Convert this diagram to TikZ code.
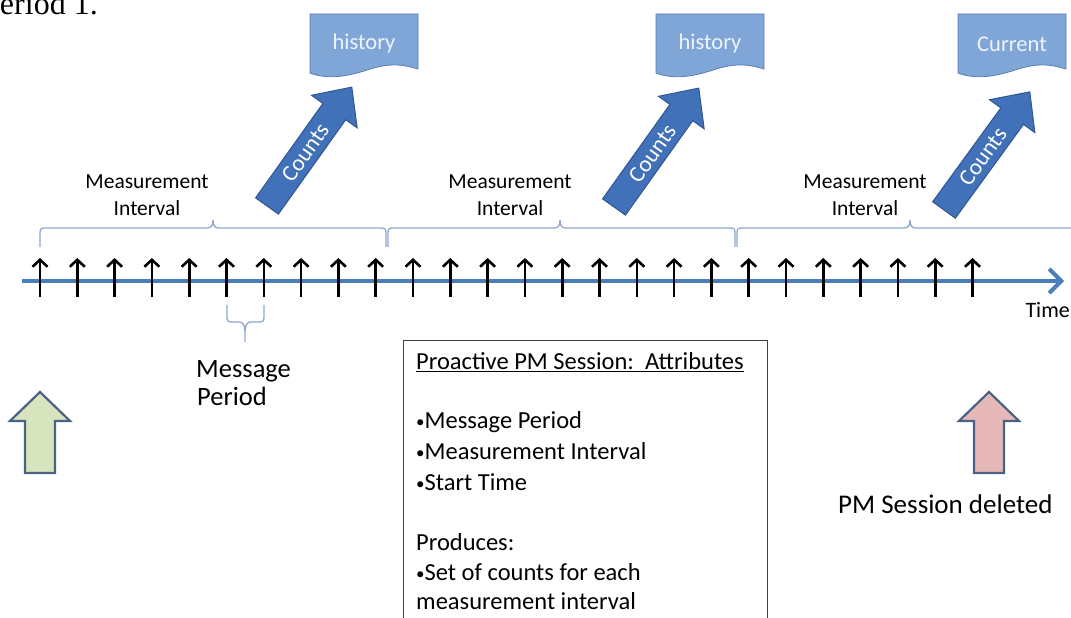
\documentclass[tikz,border=0pt]{standalone}
\usepackage{fontspec}
\setmainfont{Carlito}
\newfontfamily\timesfont{Liberation Serif}
\usetikzlibrary{arrows.meta}

\definecolor{axisblue}{HTML}{4A7EBB}
\definecolor{bracecol}{HTML}{8FA8D2}
\definecolor{countsfill}{HTML}{4171B9}
\definecolor{countsline}{HTML}{2F5592}
\definecolor{docfill}{HTML}{80A6D8}
\definecolor{docline}{HTML}{5A7DB3}
\definecolor{doctext}{HTML}{EEF3FA}
\definecolor{startfill}{HTML}{D7E4BD}
\definecolor{endfill}{HTML}{E6B9B8}
\definecolor{blockline}{HTML}{4A6285}
\definecolor{boxline}{HTML}{404040}

% curly brace over an interval: left end, tip, right end
\newcommand\intervalbrace[3]{%
  \draw[bracepath] (#1,371) -- (#1,385) .. controls (#1,389) and (#1+1,390) .. (#1+5,390)
    -- (#2-6,390) .. controls (#2-2,390) and (#2,392) .. (#2,398)
    .. controls (#2,392) and (#2+2,390) .. (#2+6,390)
    -- (#3-5,390) .. controls (#3-1,390) and (#3,389) .. (#3,385) -- (#3,371);}
% small raised list bullet
\newcommand\lbul{\raisebox{1.5pt}{\fontsize{17}{20}\selectfont•}}

\begin{document}
\begin{tikzpicture}[x=1pt,y=1pt,
  axis/.style={axisblue, line width=4pt, -{Straight Barb[length=12pt,width=24pt]}},
  tick/.style={black, line width=2.6pt, -{Straight Barb[length=7pt,width=15pt]}},
  bracepath/.style={bracecol, line width=1.3pt},
  mlbl/.style={font=\fontsize{21.5}{26}\selectfont, inner sep=0pt},
  mplbl/.style={font=\fontsize{26.5}{30}\selectfont, inner sep=0pt},
  boxtxt/.style={font=\fontsize{24.5}{30}\selectfont, inner sep=0pt, anchor=base west},
  countstxt/.style={font=\fontsize{23}{26}\selectfont, text=white, inner sep=0pt},
  doctxt/.style={font=\fontsize{22.5}{26}\selectfont, text=doctext, inner sep=0pt},
  blockarrow/.style={blockline, line width=2.2pt, line join=miter},
  countsarrow/.pic={
    \draw[countsline, line width=1pt, fill=countsfill, line join=miter]
      (0,-14) -- (116,-14) -- (116,-28) -- (146,0) -- (116,28) -- (116,14) -- (0,14) -- cycle;
    \node[countstxt, transform shape] (-txt) at (66,0) {Counts};
  },
  docshape/.pic={
    \draw[docline, line width=0.8pt, fill=docfill]
      (0,0) -- (108,0) -- (108,-55) .. controls (86,-48) and (72,-51) .. (54,-57)
      .. controls (38,-62) and (18,-66) .. (0,-59) -- cycle;
    \node[doctxt] (-txt) at (54,-30) {\tikzpictext};
  }
]
\useasboundingbox (0,0) rectangle (1071,618);
\clip (0,0) rectangle (1071,618);
\fill[white] (0,0) rectangle (1071,618);

% heading fragment
\node[font=\timesfont\fontsize{32}{36}\selectfont, anchor=base west, inner sep=0pt] (period) at (-18,603) {Period 1.};

% time axis
\coordinate (axstart) at (22,337);
\coordinate (axend) at (1064,337);
\draw[axis] (axstart) -- (axend);
\node[mlbl, font=\fontsize{22}{26}\selectfont, anchor=base east] (timelbl) at (1070,300) {Time};

% message ticks
\foreach \i in {0,...,25} {
  \coordinate (tb\i) at ({40+37.3*\i},321);
  \coordinate (tt\i) at ({40+37.3*\i},360);
  \draw[tick] (tb\i) -- (tt\i);
}

% measurement intervals
\intervalbrace{40}{213}{386}
\intervalbrace{388}{560}{735}
\intervalbrace{737}{910}{1090}
\node[mlbl, anchor=base] (mi1a) at (147,429) {Measurement};
\node[mlbl, anchor=base] (mi1b) at (147,402) {Interval};
\node[mlbl, anchor=base] (mi2a) at (510,429) {Measurement};
\node[mlbl, anchor=base] (mi2b) at (510,402) {Interval};
\node[mlbl, anchor=base] (mi3a) at (865,429) {Measurement};
\node[mlbl, anchor=base] (mi3b) at (865,402) {Interval};

% message period brace
\draw[bracepath] (227,313) -- (227,301) .. controls (227,297) and (228,296) .. (232,296)
  -- (239,296) .. controls (243,296) and (245,293) .. (245,286) -- (245,276)
  -- (245,286) .. controls (245,293) and (247,296) .. (251,296)
  -- (259,296) .. controls (263,296) and (264,297) .. (264,301) -- (264,313);
\node[mplbl, anchor=base west] (mp1) at (196,240) {Message};
\node[mplbl, anchor=base west] (mp2) at (197,212) {Period};

% result documents
\pic[pic text=history] (doc1) at (310,604) {docshape};
\pic[pic text=history] (doc2) at (656,604) {docshape};
\pic[pic text=Current] (doc3) at (958,604) {docshape};

% counts arrows
\pic[rotate=54.5] (ca1) at (267,412) {countsarrow};
\pic[rotate=54.5] (ca2) at (614,411) {countsarrow};
\pic[rotate=54] (ca3) at (944,408) {countsarrow};

% session start / end markers
\draw[blockarrow, fill=startfill] (25,145) -- (25,197) -- (10,197) -- (40,226) -- (70,197) -- (55,197) -- (55,145) -- cycle;
\draw[blockarrow, fill=endfill] (974,145) -- (974,197) -- (959,197) -- (989,226) -- (1019,197) -- (1004,197) -- (1004,145) -- cycle;
\node[mplbl, font=\fontsize{27}{30}\selectfont, anchor=base west] (deleted) at (838,104) {PM Session deleted};

% attribute box
\node[draw=boxline, line width=1.3pt, minimum width=364pt, minimum height=310pt, anchor=north west, inner sep=0pt] (attrbox) at (403,278) {};
\node[boxtxt] (bx0) at (416,248) {\underline{Proactive PM Session:\ \ Attributes}};
\node[boxtxt] (bx1) at (416,189) {\lbul Message Period};
\node[boxtxt] (bx2) at (416,158) {\lbul Measurement Interval};
\node[boxtxt] (bx3) at (416,127) {\lbul Start Time};
\node[boxtxt] (bx4) at (416,67) {Produces:};
\node[boxtxt] (bx5) at (416,37) {\lbul Set of counts for each};
\node[boxtxt] (bx6) at (416,8) {measurement interval};
\end{tikzpicture}
\end{document}
